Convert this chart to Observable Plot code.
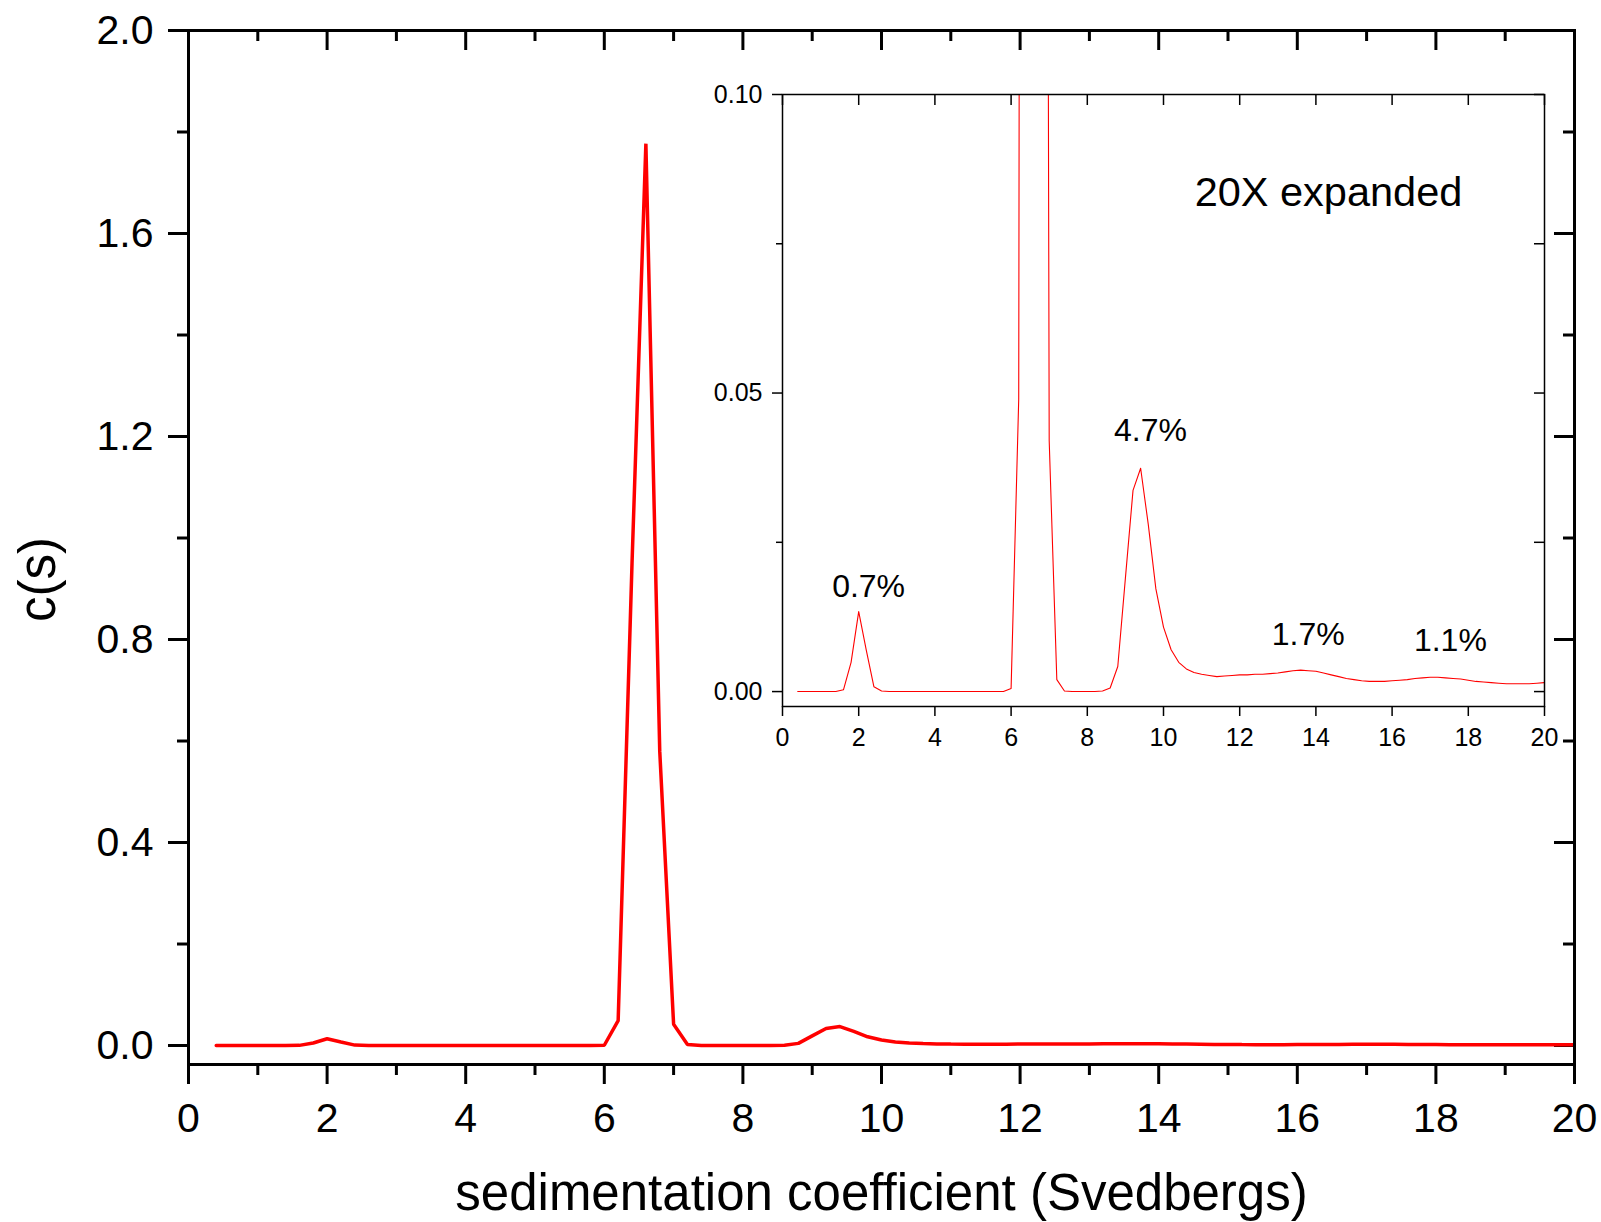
<!DOCTYPE html>
<html>
<head>
<meta charset="utf-8">
<script src="https://cdn.jsdelivr.net/npm/d3@7"></script>
<script src="https://cdn.jsdelivr.net/npm/@observablehq/plot@0.6"></script>
<style>
  html, body { margin: 0; padding: 0; background: white; }
  #wrap { position: relative; width: 1601px; height: 1222px; overflow: hidden; background: white; }
  #main { position: absolute; left: 0; top: 0; }
  #inset { position: absolute; left: 680px; top: 80px; }
</style>
</head>
<body>
<div id="wrap"><div id="main"></div><div id="inset"></div></div>
<script>
// sedimentation coefficient (S)
const sValues = [0.4,0.6,0.8,1.0,1.2,1.4,1.6,1.8,2.0,2.2,2.4,2.6,2.8,3.0,3.2,3.4,3.6,3.8,4.0,4.2,4.4,4.6,4.8,5.0,5.2,5.4,5.6,5.8,6.0,6.2,6.4,6.6,6.8,7.0,7.2,7.4,7.6,7.8,8.0,8.2,8.4,8.6,8.8,9.0,9.2,9.4,9.6,9.8,10.0,10.2,10.4,10.6,10.8,11.0,11.2,11.4,11.6,11.8,12.0,12.2,12.4,12.6,12.8,13.0,13.2,13.4,13.6,13.8,14.0,14.2,14.4,14.6,14.8,15.0,15.2,15.4,15.6,15.8,16.0,16.2,16.4,16.6,16.8,17.0,17.2,17.4,17.6,17.8,18.0,18.2,18.4,18.6,18.8,19.0,19.2,19.4,19.6,19.8,20.0];
// c(s)
const cValues = [0,0,0,0,0,0,0.0003,0.0049,0.0134,0.0069,0.0008,0.0001,0,0,0,0,0,0,0,0,0,0,0,0,0,0,0,0,0.0005,0.049,0.95,1.777,0.58,0.042,0.002,0.0001,0,0,0,0,0.0001,0.0006,0.0042,0.019,0.0337,0.0374,0.028,0.0172,0.0108,0.0070,0.0049,0.0038,0.0032,0.0029,0.0027,0.0025,0.0026,0.0027,0.0028,0.0028,0.0029,0.0029,0.0030,0.0031,0.0033,0.0035,0.0036,0.0035,0.0034,0.0031,0.0028,0.0025,0.0022,0.0020,0.0018,0.0017,0.0017,0.0017,0.0018,0.0019,0.0020,0.0022,0.0023,0.0024,0.0024,0.0023,0.0022,0.0021,0.0019,0.0017,0.0016,0.0015,0.0014,0.0013,0.0013,0.0013,0.0013,0.0014,0.0015];

// main axis ticks
const mainXMajor = [0,2,4,6,8,10,12,14,16,18,20];
const mainXMinor = [1,3,5,7,9,11,13,15,17,19];
const mainYMajor = [0,0.4,0.8,1.2,1.6,2.0];
const mainYMinor = [0.2,0.6,1.0,1.4,1.8];
// inset axis ticks
const insetXMajor = [0,2,4,6,8,10,12,14,16,18,20];
const insetYMajor = [0,0.05,0.10];
const insetYMinor = [0.025,0.075];

// texts
const xLabel = "sedimentation coefficient (Svedbergs)";
const yLabel = "c(s)";
const insetTitle = ["20X expanded"];
const insetTitleX = [14.33];
const insetTitleY = [0.0836];
const peakLabels = ["0.7%","4.7%","1.7%","1.1%"];
const peakLabelX = [2.26, 9.66, 13.8, 17.53];
const peakLabelY = [0.0176, 0.0436, 0.0095, 0.0085];

const data = sValues.map((s, i) => ({s, c: cValues[i]}));
const FONT = "'Liberation Sans', Arial, Helvetica, sans-serif";

// ---- main chart
const W = 1601, H = 1222;
const mL = 188, mR = 27, mT = 30, mB = 158;
const innerW = W - mL - mR, innerH = H - mT - mB;

const main = Plot.plot({
  width: W, height: H,
  marginLeft: mL, marginRight: mR, marginTop: mT, marginBottom: mB,
  style: {fontFamily: FONT, background: "white", color: "black", overflow: "visible"},
  x: {domain: [0, 20]},
  y: {domain: [-0.0374, 2.0]},
  marks: [
    Plot.axisX(mainXMajor, {anchor: "bottom", tickSize: 20, tickPadding: 18, fontSize: 41, strokeWidth: 3, tickFormat: d3.format("d"), label: null}),
    Plot.axisX(mainXMinor, {anchor: "bottom", tickSize: 11, strokeWidth: 3, tickFormat: () => "", label: null}),
    Plot.axisY(mainYMajor, {anchor: "left", tickSize: 20, tickPadding: 15, fontSize: 41, strokeWidth: 3, tickFormat: d3.format(".1f"), label: null}),
    Plot.axisY(mainYMinor, {anchor: "left", tickSize: 11, strokeWidth: 3, tickFormat: () => "", label: null}),
    Plot.tickX(mainXMajor, {x: d => d, insetBottom: innerH - 20, strokeWidth: 3, stroke: "black"}),
    Plot.tickX(mainXMinor, {x: d => d, insetBottom: innerH - 11, strokeWidth: 3, stroke: "black"}),
    Plot.tickY(mainYMajor, {y: d => d, insetLeft: innerW - 20, strokeWidth: 3, stroke: "black"}),
    Plot.tickY(mainYMinor, {y: d => d, insetLeft: innerW - 11, strokeWidth: 3, stroke: "black"}),
    Plot.line(data, {x: "s", y: "c", stroke: "#ff0000", strokeWidth: 3.5, strokeLinejoin: "miter", clip: true}),
    Plot.frame({stroke: "black", strokeWidth: 3}),
    Plot.text([xLabel], {frameAnchor: "bottom", dy: 129, fontSize: 51, lineAnchor: "middle", textAnchor: "middle", fill: "black"}),
    Plot.text([yLabel], {frameAnchor: "left", dx: -150, dy: 32, rotate: -90, fontSize: 51, lineAnchor: "middle", textAnchor: "middle", fill: "black"})
  ]
});
document.getElementById("main").appendChild(main);

// ---- inset chart
const iW = 880, iH = 665;
const iL = 102, iR = 16, iT = 14, iB = 39;
const iInnerW = iW - iL - iR, iInnerH = iH - iT - iB;

const inset = Plot.plot({
  width: iW, height: iH,
  marginLeft: iL, marginRight: iR, marginTop: iT, marginBottom: iB,
  style: {fontFamily: FONT, background: "transparent", color: "black", overflow: "visible"},
  x: {domain: [0, 20]},
  y: {domain: [-0.0025, 0.10]},
  marks: [
    Plot.axisX(insetXMajor, {anchor: "bottom", tickSize: 10, tickPadding: 12, fontSize: 25, strokeWidth: 1.5, tickFormat: d3.format("d"), label: null}),
    Plot.axisY(insetYMajor, {anchor: "left", tickSize: 10, tickPadding: 10, fontSize: 25, strokeWidth: 1.5, tickFormat: d3.format(".2f"), label: null}),
    Plot.axisY(insetYMinor, {anchor: "left", tickSize: 6, strokeWidth: 1.5, tickFormat: () => "", label: null}),
    Plot.tickX(insetXMajor, {x: d => d, insetBottom: iInnerH - 11, strokeWidth: 1.5, stroke: "black"}),
    Plot.tickY(insetYMajor, {y: d => d, insetLeft: iInnerW - 10, strokeWidth: 1.5, stroke: "black"}),
    Plot.tickY(insetYMinor, {y: d => d, insetLeft: iInnerW - 10, strokeWidth: 1.5, stroke: "black"}),
    Plot.line(data, {x: "s", y: "c", stroke: "#ff0000", strokeWidth: 1.1, clip: true}),
    Plot.frame({stroke: "black", strokeWidth: 1.5}),
    Plot.text(insetTitle, {x: (d, i) => insetTitleX[i], y: (d, i) => insetTitleY[i], text: d => d, fontSize: 41.5, textAnchor: "middle", lineAnchor: "middle", fill: "black"}),
    Plot.text(peakLabels, {x: (d, i) => peakLabelX[i], y: (d, i) => peakLabelY[i], text: d => d, fontSize: 32, textAnchor: "middle", lineAnchor: "middle", fill: "black"})
  ]
});
document.getElementById("inset").appendChild(inset);
</script>
</body>
</html>
